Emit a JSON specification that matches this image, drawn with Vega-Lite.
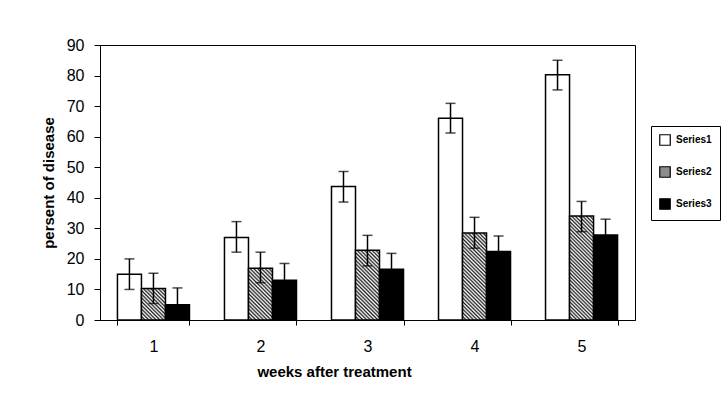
{
  "$schema": "https://vega.github.io/schema/vega-lite/v6.json",
  "autosize": {"type": "none"},
  "padding": {"left": 100, "top": 45, "right": 89, "bottom": 94},
  "width": 535,
  "height": 275,
  "background": "white",
  "config": {
    "font": "Liberation Sans",
    "view": {"stroke": "black", "strokeWidth": 1},
    "axis": {"grid": false, "domainColor": "black", "tickColor": "black", "labelColor": "black", "titleColor": "black", "labelFont": "Liberation Sans", "titleFont": "Liberation Sans"}
  },
  "data": {
    "values": [
      {"week": "1", "series": "Series1", "value": 15, "lo": 10, "hi": 20},
      {"week": "1", "series": "Series2", "value": 10.3, "lo": 5.4, "hi": 15.3},
      {"week": "1", "series": "Series3", "value": 5, "lo": 0, "hi": 10.5},
      {"week": "2", "series": "Series1", "value": 27, "lo": 22.2, "hi": 32.2},
      {"week": "2", "series": "Series2", "value": 16.9, "lo": 12.2, "hi": 22.2},
      {"week": "2", "series": "Series3", "value": 13, "lo": 7.5, "hi": 18.5},
      {"week": "3", "series": "Series1", "value": 43.7, "lo": 38.6, "hi": 48.6},
      {"week": "3", "series": "Series2", "value": 22.8, "lo": 17.7, "hi": 27.7},
      {"week": "3", "series": "Series3", "value": 16.6, "lo": 11.3, "hi": 21.8},
      {"week": "4", "series": "Series1", "value": 66, "lo": 61.2, "hi": 70.9},
      {"week": "4", "series": "Series2", "value": 28.5, "lo": 23.5, "hi": 33.6},
      {"week": "4", "series": "Series3", "value": 22.4, "lo": 17.4, "hi": 27.5},
      {"week": "5", "series": "Series1", "value": 80.3, "lo": 75.3, "hi": 85},
      {"week": "5", "series": "Series2", "value": 34, "lo": 28.9, "hi": 38.8},
      {"week": "5", "series": "Series3", "value": 27.8, "lo": 22.8, "hi": 33}
    ]
  },
  "encoding": {
    "x": {
      "field": "week", "type": "nominal",
      "scale": {"paddingInner": 0.327, "paddingOuter": 0.163},
      "axis": {
        "labelAngle": 0, "labelFontSize": 16, "labelPadding": 13, "tickBand": "extent", "tickSize": 5,
        "title": "weeks after treatment", "titleFontSize": 15, "titleFontWeight": "bold", "titlePadding": 10,
        "titleX": 234, "titleAlign": "center"
      }
    },
    "xOffset": {"field": "series", "type": "nominal", "scale": {"paddingInner": 0, "paddingOuter": 0}}
  },
  "layer": [
    {
      "mark": {"type": "bar", "stroke": "black", "strokeWidth": 1.5},
      "encoding": {
        "y": {
          "field": "value", "type": "quantitative",
          "scale": {"domain": [0, 90], "nice": false},
          "axis": {
            "values": [0, 10, 20, 30, 40, 50, 60, 70, 80, 90], "labelFontSize": 16, "labelPadding": 10, "tickSize": 6, "labelOverlap": false,
            "title": "persent of disease", "titleFontSize": 15, "titleFontWeight": "bold", "titlePadding": 10
          }
        },
        "fill": {
          "condition": [
            {"test": "datum.series === 'Series2' && datum.week === '1'", "value": {"gradient": "linear", "x1": 0, "y1": 1, "x2": 0.8494, "y2": -0.1148, "stops": [
              {"offset": 0, "color": "#222"}, {"offset": 0.0333, "color": "#fff"}, {"offset": 0.0667, "color": "#222"}, {"offset": 0.1, "color": "#fff"},
              {"offset": 0.1333, "color": "#222"}, {"offset": 0.1667, "color": "#fff"}, {"offset": 0.2, "color": "#222"}, {"offset": 0.2333, "color": "#fff"},
              {"offset": 0.2667, "color": "#222"}, {"offset": 0.3, "color": "#fff"}, {"offset": 0.3333, "color": "#222"}, {"offset": 0.3667, "color": "#fff"},
              {"offset": 0.4, "color": "#222"}, {"offset": 0.4333, "color": "#fff"}, {"offset": 0.4667, "color": "#222"}, {"offset": 0.5, "color": "#fff"},
              {"offset": 0.5333, "color": "#222"}, {"offset": 0.5667, "color": "#fff"}, {"offset": 0.6, "color": "#222"}, {"offset": 0.6333, "color": "#fff"},
              {"offset": 0.6667, "color": "#222"}, {"offset": 0.7, "color": "#fff"}, {"offset": 0.7333, "color": "#222"}, {"offset": 0.7667, "color": "#fff"},
              {"offset": 0.8, "color": "#222"}, {"offset": 0.8333, "color": "#fff"}, {"offset": 0.8667, "color": "#222"}, {"offset": 0.9, "color": "#fff"},
              {"offset": 0.9333, "color": "#222"}, {"offset": 0.9667, "color": "#fff"}, {"offset": 1, "color": "#222"}
            ]}},
            {"test": "datum.series === 'Series2' && datum.week === '2'", "value": {"gradient": "linear", "x1": 0, "y1": 1, "x2": 0.5603, "y2": -0.2046, "stops": [
              {"offset": 0, "color": "#222"}, {"offset": 0.025, "color": "#fff"}, {"offset": 0.05, "color": "#222"}, {"offset": 0.075, "color": "#fff"},
              {"offset": 0.1, "color": "#222"}, {"offset": 0.125, "color": "#fff"}, {"offset": 0.15, "color": "#222"}, {"offset": 0.175, "color": "#fff"},
              {"offset": 0.2, "color": "#222"}, {"offset": 0.225, "color": "#fff"}, {"offset": 0.25, "color": "#222"}, {"offset": 0.275, "color": "#fff"},
              {"offset": 0.3, "color": "#222"}, {"offset": 0.325, "color": "#fff"}, {"offset": 0.35, "color": "#222"}, {"offset": 0.375, "color": "#fff"},
              {"offset": 0.4, "color": "#222"}, {"offset": 0.425, "color": "#fff"}, {"offset": 0.45, "color": "#222"}, {"offset": 0.475, "color": "#fff"},
              {"offset": 0.5, "color": "#222"}, {"offset": 0.525, "color": "#fff"}, {"offset": 0.55, "color": "#222"}, {"offset": 0.575, "color": "#fff"},
              {"offset": 0.6, "color": "#222"}, {"offset": 0.625, "color": "#fff"}, {"offset": 0.65, "color": "#222"}, {"offset": 0.675, "color": "#fff"},
              {"offset": 0.7, "color": "#222"}, {"offset": 0.725, "color": "#fff"}, {"offset": 0.75, "color": "#222"}, {"offset": 0.775, "color": "#fff"},
              {"offset": 0.8, "color": "#222"}, {"offset": 0.825, "color": "#fff"}, {"offset": 0.85, "color": "#222"}, {"offset": 0.875, "color": "#fff"},
              {"offset": 0.9, "color": "#222"}, {"offset": 0.925, "color": "#fff"}, {"offset": 0.95, "color": "#222"}, {"offset": 0.975, "color": "#fff"},
              {"offset": 1, "color": "#222"}
            ]}},
            {"test": "datum.series === 'Series2' && datum.week === '3'", "value": {"gradient": "linear", "x1": 0, "y1": 1, "x2": 0.4138, "y2": -0.2018, "stops": [
              {"offset": 0, "color": "#222"}, {"offset": 0.02, "color": "#fff"}, {"offset": 0.04, "color": "#222"}, {"offset": 0.06, "color": "#fff"}, {"offset": 0.08, "color": "#222"},
              {"offset": 0.1, "color": "#fff"}, {"offset": 0.12, "color": "#222"}, {"offset": 0.14, "color": "#fff"}, {"offset": 0.16, "color": "#222"}, {"offset": 0.18, "color": "#fff"},
              {"offset": 0.2, "color": "#222"}, {"offset": 0.22, "color": "#fff"}, {"offset": 0.24, "color": "#222"}, {"offset": 0.26, "color": "#fff"}, {"offset": 0.28, "color": "#222"},
              {"offset": 0.3, "color": "#fff"}, {"offset": 0.32, "color": "#222"}, {"offset": 0.34, "color": "#fff"}, {"offset": 0.36, "color": "#222"}, {"offset": 0.38, "color": "#fff"},
              {"offset": 0.4, "color": "#222"}, {"offset": 0.42, "color": "#fff"}, {"offset": 0.44, "color": "#222"}, {"offset": 0.46, "color": "#fff"}, {"offset": 0.48, "color": "#222"},
              {"offset": 0.5, "color": "#fff"}, {"offset": 0.52, "color": "#222"}, {"offset": 0.54, "color": "#fff"}, {"offset": 0.56, "color": "#222"}, {"offset": 0.58, "color": "#fff"},
              {"offset": 0.6, "color": "#222"}, {"offset": 0.62, "color": "#fff"}, {"offset": 0.64, "color": "#222"}, {"offset": 0.66, "color": "#fff"}, {"offset": 0.68, "color": "#222"},
              {"offset": 0.7, "color": "#fff"}, {"offset": 0.72, "color": "#222"}, {"offset": 0.74, "color": "#fff"}, {"offset": 0.76, "color": "#222"}, {"offset": 0.78, "color": "#fff"},
              {"offset": 0.8, "color": "#222"}, {"offset": 0.82, "color": "#fff"}, {"offset": 0.84, "color": "#222"}, {"offset": 0.86, "color": "#fff"}, {"offset": 0.88, "color": "#222"},
              {"offset": 0.9, "color": "#fff"}, {"offset": 0.92, "color": "#222"}, {"offset": 0.94, "color": "#fff"}, {"offset": 0.96, "color": "#222"}, {"offset": 0.98, "color": "#fff"},
              {"offset": 1, "color": "#222"}
            ]}},
            {"test": "datum.series === 'Series2' && datum.week === '4'", "value": {"gradient": "linear", "x1": 0, "y1": 1, "x2": 0.3266, "y2": -0.1855, "stops": [
              {"offset": 0, "color": "#222"}, {"offset": 0.0167, "color": "#fff"}, {"offset": 0.0333, "color": "#222"}, {"offset": 0.05, "color": "#fff"}, {"offset": 0.0667, "color": "#222"}, {"offset": 0.0833, "color": "#fff"},
              {"offset": 0.1, "color": "#222"}, {"offset": 0.1167, "color": "#fff"}, {"offset": 0.1333, "color": "#222"}, {"offset": 0.15, "color": "#fff"}, {"offset": 0.1667, "color": "#222"}, {"offset": 0.1833, "color": "#fff"},
              {"offset": 0.2, "color": "#222"}, {"offset": 0.2167, "color": "#fff"}, {"offset": 0.2333, "color": "#222"}, {"offset": 0.25, "color": "#fff"}, {"offset": 0.2667, "color": "#222"}, {"offset": 0.2833, "color": "#fff"},
              {"offset": 0.3, "color": "#222"}, {"offset": 0.3167, "color": "#fff"}, {"offset": 0.3333, "color": "#222"}, {"offset": 0.35, "color": "#fff"}, {"offset": 0.3667, "color": "#222"}, {"offset": 0.3833, "color": "#fff"},
              {"offset": 0.4, "color": "#222"}, {"offset": 0.4167, "color": "#fff"}, {"offset": 0.4333, "color": "#222"}, {"offset": 0.45, "color": "#fff"}, {"offset": 0.4667, "color": "#222"}, {"offset": 0.4833, "color": "#fff"},
              {"offset": 0.5, "color": "#222"}, {"offset": 0.5167, "color": "#fff"}, {"offset": 0.5333, "color": "#222"}, {"offset": 0.55, "color": "#fff"}, {"offset": 0.5667, "color": "#222"}, {"offset": 0.5833, "color": "#fff"},
              {"offset": 0.6, "color": "#222"}, {"offset": 0.6167, "color": "#fff"}, {"offset": 0.6333, "color": "#222"}, {"offset": 0.65, "color": "#fff"}, {"offset": 0.6667, "color": "#222"}, {"offset": 0.6833, "color": "#fff"},
              {"offset": 0.7, "color": "#222"}, {"offset": 0.7167, "color": "#fff"}, {"offset": 0.7333, "color": "#222"}, {"offset": 0.75, "color": "#fff"}, {"offset": 0.7667, "color": "#222"}, {"offset": 0.7833, "color": "#fff"},
              {"offset": 0.8, "color": "#222"}, {"offset": 0.8167, "color": "#fff"}, {"offset": 0.8333, "color": "#222"}, {"offset": 0.85, "color": "#fff"}, {"offset": 0.8667, "color": "#222"}, {"offset": 0.8833, "color": "#fff"},
              {"offset": 0.9, "color": "#222"}, {"offset": 0.9167, "color": "#fff"}, {"offset": 0.9333, "color": "#222"}, {"offset": 0.95, "color": "#fff"}, {"offset": 0.9667, "color": "#222"}, {"offset": 0.9833, "color": "#fff"},
              {"offset": 1, "color": "#222"}
            ]}},
            {"test": "datum.series === 'Series2' && datum.week === '5'", "value": {"gradient": "linear", "x1": 0, "y1": 1, "x2": 0.2699, "y2": -0.1686, "stops": [
              {"offset": 0, "color": "#222"}, {"offset": 0.0143, "color": "#fff"}, {"offset": 0.0286, "color": "#222"}, {"offset": 0.0429, "color": "#fff"}, {"offset": 0.0571, "color": "#222"}, {"offset": 0.0714, "color": "#fff"}, {"offset": 0.0857, "color": "#222"},
              {"offset": 0.1, "color": "#fff"}, {"offset": 0.1143, "color": "#222"}, {"offset": 0.1286, "color": "#fff"}, {"offset": 0.1429, "color": "#222"}, {"offset": 0.1571, "color": "#fff"}, {"offset": 0.1714, "color": "#222"}, {"offset": 0.1857, "color": "#fff"},
              {"offset": 0.2, "color": "#222"}, {"offset": 0.2143, "color": "#fff"}, {"offset": 0.2286, "color": "#222"}, {"offset": 0.2429, "color": "#fff"}, {"offset": 0.2571, "color": "#222"}, {"offset": 0.2714, "color": "#fff"}, {"offset": 0.2857, "color": "#222"},
              {"offset": 0.3, "color": "#fff"}, {"offset": 0.3143, "color": "#222"}, {"offset": 0.3286, "color": "#fff"}, {"offset": 0.3429, "color": "#222"}, {"offset": 0.3571, "color": "#fff"}, {"offset": 0.3714, "color": "#222"}, {"offset": 0.3857, "color": "#fff"},
              {"offset": 0.4, "color": "#222"}, {"offset": 0.4143, "color": "#fff"}, {"offset": 0.4286, "color": "#222"}, {"offset": 0.4429, "color": "#fff"}, {"offset": 0.4571, "color": "#222"}, {"offset": 0.4714, "color": "#fff"}, {"offset": 0.4857, "color": "#222"},
              {"offset": 0.5, "color": "#fff"}, {"offset": 0.5143, "color": "#222"}, {"offset": 0.5286, "color": "#fff"}, {"offset": 0.5429, "color": "#222"}, {"offset": 0.5571, "color": "#fff"}, {"offset": 0.5714, "color": "#222"}, {"offset": 0.5857, "color": "#fff"},
              {"offset": 0.6, "color": "#222"}, {"offset": 0.6143, "color": "#fff"}, {"offset": 0.6286, "color": "#222"}, {"offset": 0.6429, "color": "#fff"}, {"offset": 0.6571, "color": "#222"}, {"offset": 0.6714, "color": "#fff"}, {"offset": 0.6857, "color": "#222"},
              {"offset": 0.7, "color": "#fff"}, {"offset": 0.7143, "color": "#222"}, {"offset": 0.7286, "color": "#fff"}, {"offset": 0.7429, "color": "#222"}, {"offset": 0.7571, "color": "#fff"}, {"offset": 0.7714, "color": "#222"}, {"offset": 0.7857, "color": "#fff"},
              {"offset": 0.8, "color": "#222"}, {"offset": 0.8143, "color": "#fff"}, {"offset": 0.8286, "color": "#222"}, {"offset": 0.8429, "color": "#fff"}, {"offset": 0.8571, "color": "#222"}, {"offset": 0.8714, "color": "#fff"}, {"offset": 0.8857, "color": "#222"},
              {"offset": 0.9, "color": "#fff"}, {"offset": 0.9143, "color": "#222"}, {"offset": 0.9286, "color": "#fff"}, {"offset": 0.9429, "color": "#222"}, {"offset": 0.9571, "color": "#fff"}, {"offset": 0.9714, "color": "#222"}, {"offset": 0.9857, "color": "#fff"},
              {"offset": 1, "color": "#222"}
            ]}}
          ],
          "field": "series", "type": "nominal",
          "scale": {"domain": ["Series1", "Series2", "Series3"], "range": ["white", "#8c8c8c", "black"]},
          "legend": {
            "title": null, "orient": "none", "legendX": 551, "legendY": 81,
            "strokeColor": "black", "padding": 8, "rowPadding": 16,
            "symbolType": "square", "symbolSize": 110, "symbolStrokeColor": "black", "symbolStrokeWidth": 1.2, "symbolOpacity": 1,
            "labelFontSize": 10, "labelFontWeight": "bold", "labelColor": "black", "labelOffset": 5
          }
        }
      }
    },
    {
      "mark": {"type": "rule", "color": "black", "strokeWidth": 1.5},
      "encoding": {
        "y": {
          "field": "lo", "type": "quantitative",
          "axis": {
            "values": [0, 10, 20, 30, 40, 50, 60, 70, 80, 90], "labelFontSize": 16, "labelPadding": 10, "tickSize": 6, "labelOverlap": false,
            "title": "persent of disease", "titleFontSize": 15, "titleFontWeight": "bold", "titlePadding": 10
          }
        },
        "y2": {"field": "hi"}
      }
    },
    {
      "mark": {"type": "tick", "color": "black", "size": 10, "thickness": 1.5},
      "encoding": {
        "y": {
          "field": "hi", "type": "quantitative",
          "axis": {
            "values": [0, 10, 20, 30, 40, 50, 60, 70, 80, 90], "labelFontSize": 16, "labelPadding": 10, "tickSize": 6, "labelOverlap": false,
            "title": "persent of disease", "titleFontSize": 15, "titleFontWeight": "bold", "titlePadding": 10
          }
        }
      }
    },
    {
      "mark": {"type": "tick", "color": "black", "size": 10, "thickness": 1.5},
      "encoding": {
        "y": {
          "field": "lo", "type": "quantitative",
          "axis": {
            "values": [0, 10, 20, 30, 40, 50, 60, 70, 80, 90], "labelFontSize": 16, "labelPadding": 10, "tickSize": 6, "labelOverlap": false,
            "title": "persent of disease", "titleFontSize": 15, "titleFontWeight": "bold", "titlePadding": 10
          }
        }
      }
    }
  ]
}
